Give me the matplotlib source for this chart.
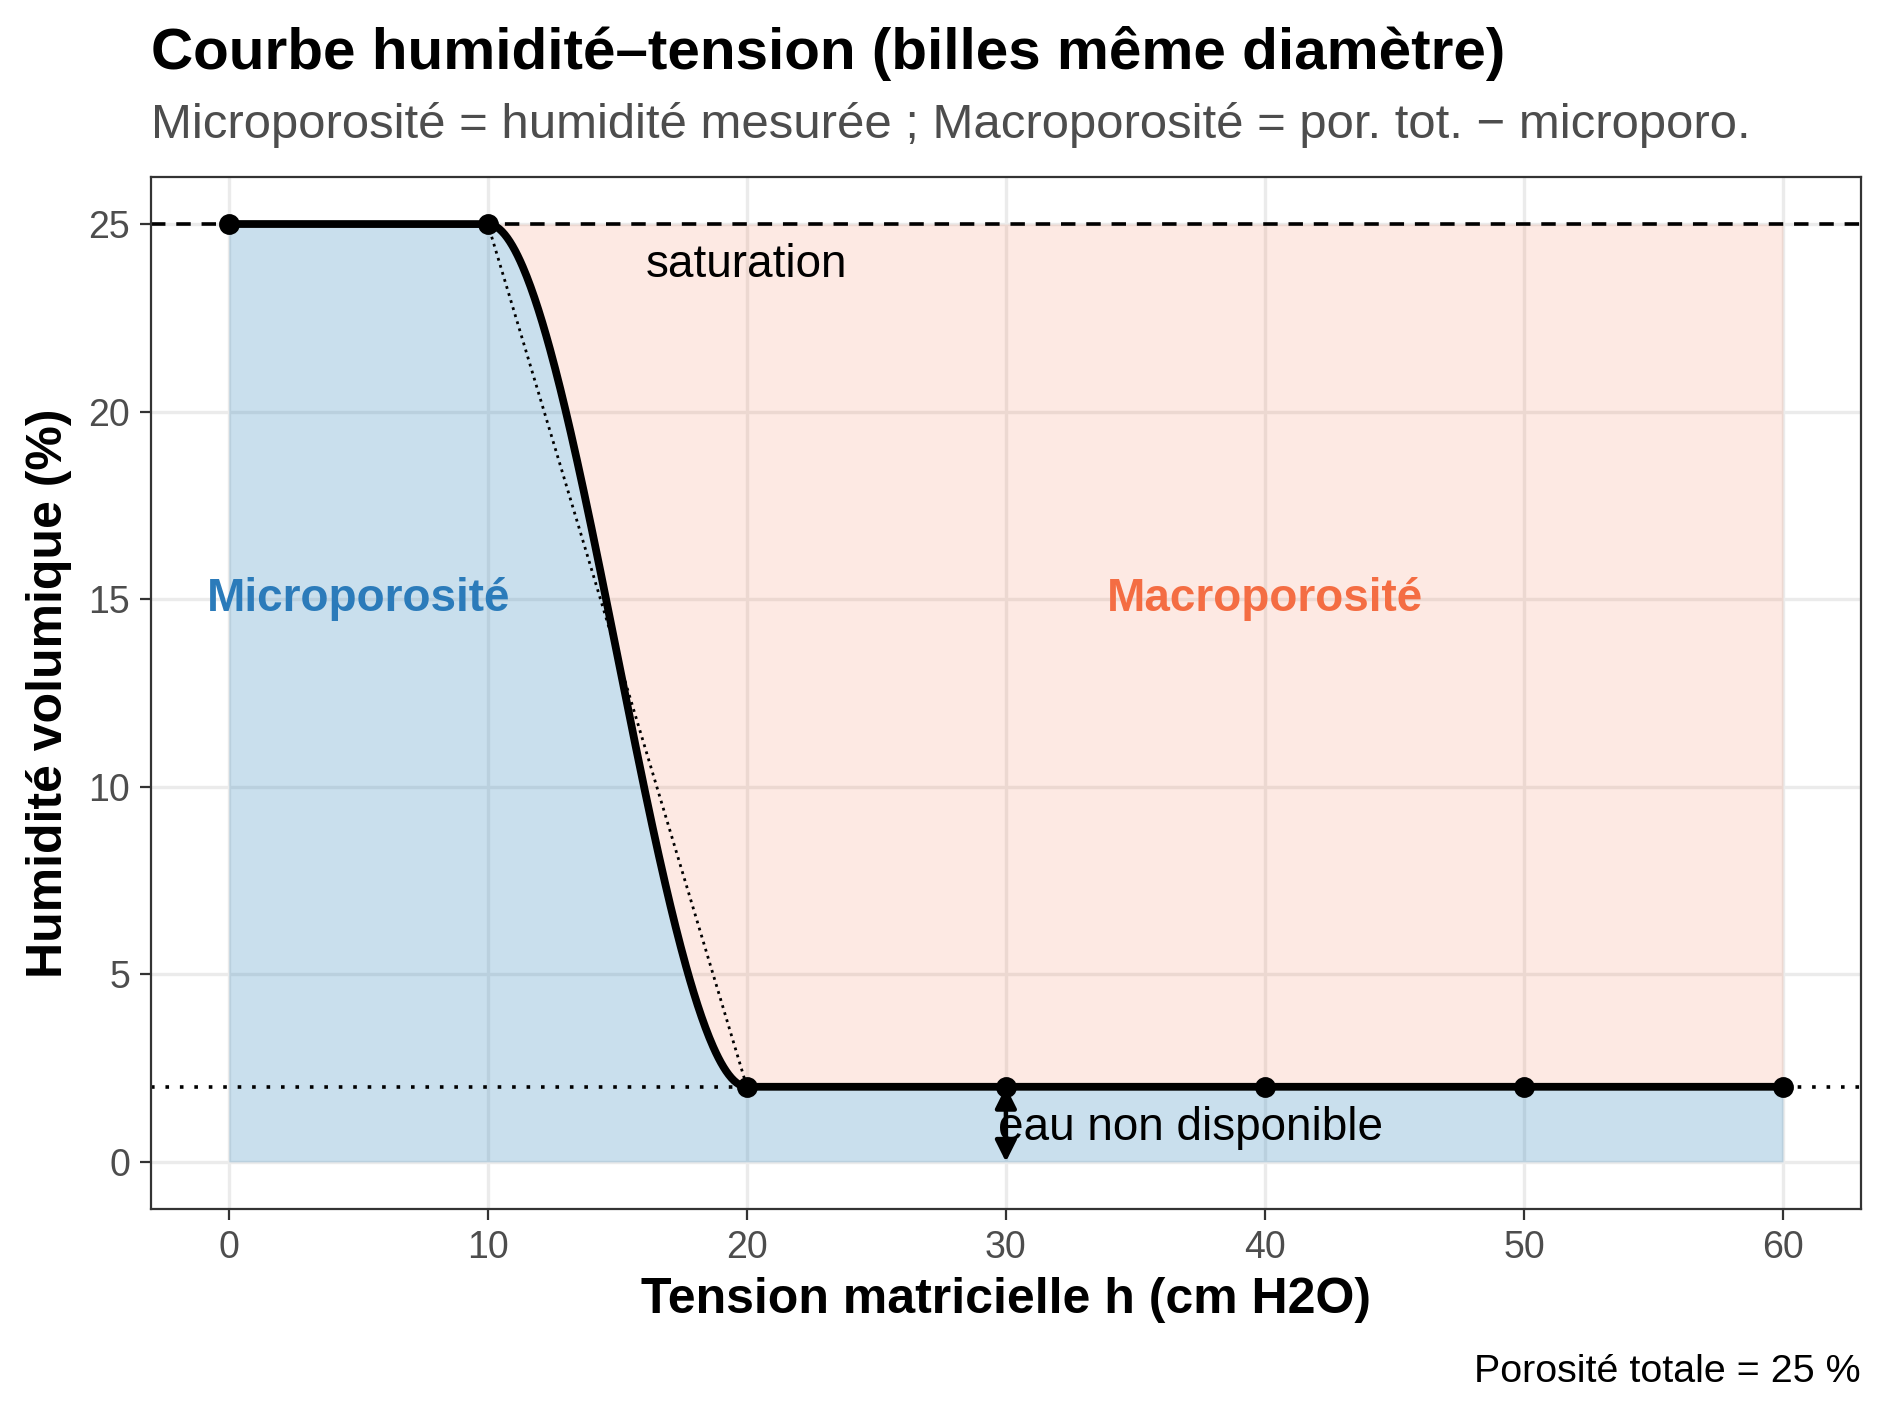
import numpy as np
import matplotlib
matplotlib.use("Agg")
import matplotlib.pyplot as plt

h = [0, 10, 20, 30, 40, 50, 60]
theta = [25, 25, 2, 2, 2, 2, 2]
porosite = 25
residuel = 2

def pchip(x, y, xs):
    x = np.asarray(x, float); y = np.asarray(y, float)
    d = np.diff(y) / np.diff(x)
    m = np.zeros_like(y)
    for i in range(1, len(x) - 1):
        m[i] = 0 if d[i-1] * d[i] <= 0 else 2 / (1/d[i-1] + 1/d[i])
    out = np.empty_like(xs)
    for j, xv in enumerate(xs):
        i = min(np.searchsorted(x, xv, side="right") - 1, len(x) - 2)
        hh = x[i+1] - x[i]; t = (xv - x[i]) / hh
        out[j] = ((2*t**3 - 3*t**2 + 1) * y[i] + (t**3 - 2*t**2 + t) * hh * m[i]
                  + (-2*t**3 + 3*t**2) * y[i+1] + (t**3 - t**2) * hh * m[i+1])
    return out

plt.rcParams['font.family'] = ['Liberation Sans', 'DejaVu Sans']
fig = plt.figure(figsize=(9.445, 7.085), dpi=200)
ax = fig.add_axes([0.080, 0.147, 0.905, 0.728])
xs = np.linspace(0, 60, 1201)
ys = pchip(h, theta, xs)

ax.fill_between(xs, 0, ys, color='#2b83ba', alpha=0.25, lw=0)
m = xs >= 10
ax.fill_between(xs[m], ys[m], porosite, color='#f46d43', alpha=0.15, lw=0)
ax.axhline(porosite, color='black', ls=(0, (4, 3)), lw=1.3)
ax.axhline(residuel, color='black', ls=(0, (1, 3)), lw=1.3)
ax.plot(h, theta, color='black', ls=':', lw=1)
ax.plot(xs, ys, color='black', lw=2.8)
ax.plot(h, theta, 'o', color='black', ms=6.5)
ax.annotate('', xy=(30, 0), xytext=(30, residuel),
            arrowprops=dict(arrowstyle='<|-|>', color='black', lw=1.6, mutation_scale=16,
                            shrinkA=0, shrinkB=0))
ax.text(29.7, 0.9, 'eau non disponible', fontsize=16.5, ha='left', va='center')
ax.text(20, 23.9, 'saturation', fontsize=16.5, ha='center', va='center')
ax.text(5, 15, 'Microporosité', fontsize=16.5, ha='center', va='center', color='#2b7bba', fontweight='bold')
ax.text(40, 15, 'Macroporosité', fontsize=16.5, ha='center', va='center', color='#f46d43', fontweight='bold')

ax.set_xlim(-3, 63); ax.set_ylim(-1.25, 26.25)
ax.set_xticks(range(0, 61, 10)); ax.set_yticks(range(0, 26, 5))
ax.grid(True, color='#ebebeb', lw=1.2); ax.set_axisbelow(True)
ax.tick_params(labelsize=13.5, labelcolor='#4d4d4d', color='#333333', length=4)
for s in ax.spines.values():
    s.set_color('#333333'); s.set_linewidth(0.8)
ax.set_xlabel('Tension matricielle h (cm H2O)', fontsize=18, fontweight='bold', labelpad=4)
ax.set_ylabel('Humidité volumique (%)', fontsize=18, fontweight='bold', labelpad=6)
fig.text(0.080, 0.962, 'Courbe humidité–tension (billes même diamètre)', fontsize=21, fontweight='bold', va='center')
fig.text(0.080, 0.912, 'Microporosité = humidité mesurée ; Macroporosité = por. tot. − microporo.', fontsize=17.7, color='#4d4d4d', va='center')
fig.text(0.985, 0.032, 'Porosité totale = 25 %', fontsize=14.2, ha='right', va='center')
fig.savefig('out.png', dpi=200)
